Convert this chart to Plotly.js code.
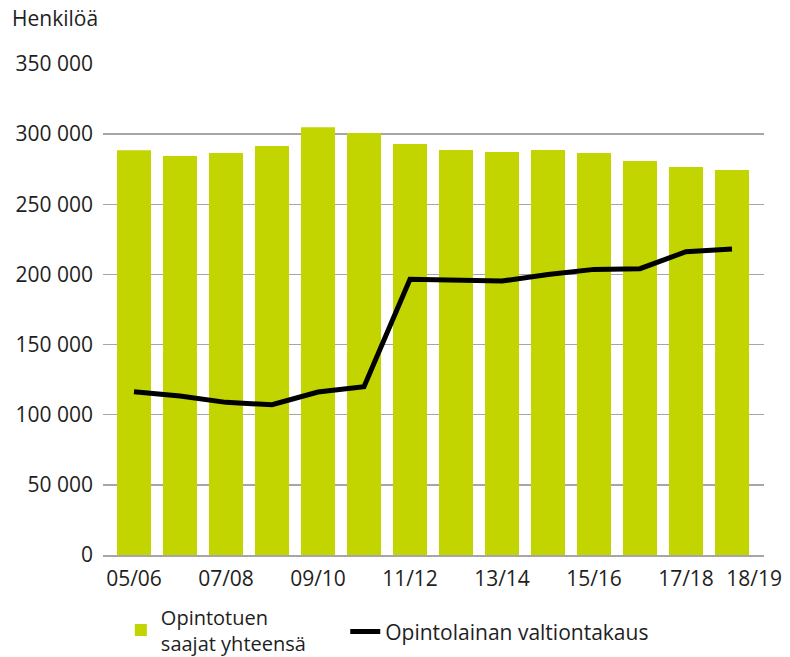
<!DOCTYPE html>
<html>
<head>
<meta charset="utf-8">
<script src="https://cdn.plot.ly/plotly-3.0.1.min.js"></script>
<style>html,body{margin:0;padding:0;background:#fff;}#chart{width:790px;height:657px;}</style>
</head>
<body>
<div id="chart"></div>
<script>
// Data
var categories = ["05/06","06/07","07/08","08/09","09/10","10/11","11/12","12/13","13/14","14/15","15/16","16/17","17/18","18/19"];
var opintotuenSaajat = [288500, 284400, 286500, 291500, 305000, 300800, 293000, 288700, 287200, 288700, 286500, 280800, 276500, 274400];
var valtiontakaus = [116400, 113300, 108800, 107100, 116200, 120000, 196500, 195500, 195300, 200000, 203600, 204100, 216200, 218100];
var tickLabels = ["05/06","07/08","09/10","11/12","13/14","15/16","17/18","18/19"];
var seriesNames = ["Opintotuen<br>saajat yhteensä", "Opintolainan valtiontakaus"];
var yTickValues = [0, 50000, 100000, 150000, 200000, 250000, 300000, 350000];
var yTickLabels = ["0","50 000","100 000","150 000","200 000","250 000","300 000","350 000"];
var yAxisLabel = "Henkilöä";

var idx = categories.map(function(c, i){ return i; });
var tickPositions = tickLabels.map(function(t){
  var i = categories.indexOf(t);
  return i === categories.length - 1 ? i + 0.48 : i;
});

var FONT = "Open Sans, Noto Sans, sans-serif";
var TXT = "#1e1e1e";
var FS = 21;

var traces = [
  {
    type: "bar",
    x: idx,
    y: opintotuenSaajat,
    name: seriesNames[0],
    width: 0.74,
    marker: {color: "#c3d500"},
    legend: "legend",
    hoverinfo: "y"
  },
  {
    type: "scatter",
    mode: "lines",
    x: idx,
    y: valtiontakaus,
    name: seriesNames[1],
    line: {color: "#000000", width: 5},
    legend: "legend2",
    hoverinfo: "y"
  }
];

var layout = {
  width: 790,
  height: 657,
  margin: {l: 103, r: 26, t: 64, b: 102, autoexpand: false},
  paper_bgcolor: "#ffffff",
  plot_bgcolor: "#ffffff",
  font: {family: FONT, size: FS, color: TXT},
  showlegend: true,
  legend: {
    orientation: "h",
    x: 0.027,
    xanchor: "left",
    y: -0.0866,
    yanchor: "top",
    bgcolor: "rgba(0,0,0,0)",
    font: {family: FONT, size: 20, color: TXT}
  },
  legend2: {
    orientation: "h",
    x: 0.3665,
    xanchor: "left",
    y: -0.1146,
    yanchor: "top",
    bgcolor: "rgba(0,0,0,0)",
    font: {family: FONT, size: FS, color: TXT}
  },
  xaxis: {
    range: [-0.674, 13.696],
    tickmode: "array",
    tickvals: tickPositions,
    ticktext: tickLabels,
    showgrid: false,
    zeroline: false,
    showline: true,
    linecolor: "#a6a6a6",
    linewidth: 2,
    ticks: "",
    ticklabelstandoff: 4,
    tickfont: {family: FONT, size: FS, color: TXT},
    fixedrange: true
  },
  yaxis: {
    range: [0, 350000],
    tickmode: "array",
    tickvals: yTickValues,
    ticktext: yTickLabels,
    showgrid: true,
    gridcolor: "#a6a6a6",
    gridwidth: 1.5,
    zeroline: false,
    showline: false,
    ticks: "",
    ticklabelstandoff: 9,
    tickfont: {family: FONT, size: FS, color: TXT},
    fixedrange: true
  },
  annotations: [
    {
      text: yAxisLabel,
      xref: "paper", yref: "paper",
      x: -0.14, xanchor: "left",
      y: 1.0937, yanchor: "middle",
      showarrow: false,
      font: {family: FONT, size: FS, color: TXT}
    }
  ],
  bargap: 0.26
};

Plotly.newPlot("chart", traces, layout, {displayModeBar: false, staticPlot: true});
</script>
</body>
</html>
